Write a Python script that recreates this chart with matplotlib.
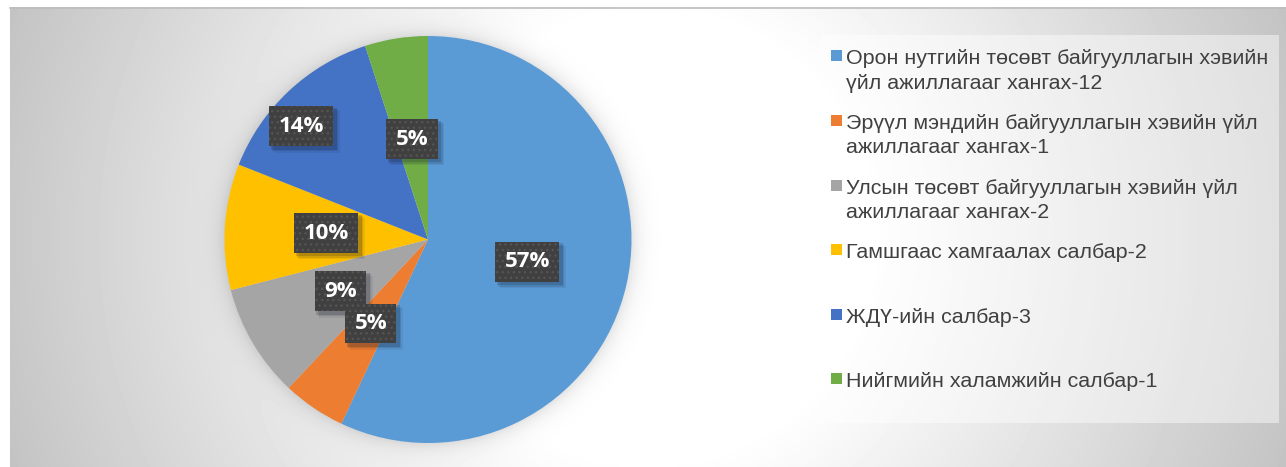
import textwrap
import numpy as np
import matplotlib
matplotlib.use("Agg")
import matplotlib.pyplot as plt
from matplotlib.patches import Rectangle
from matplotlib.transforms import IdentityTransform

# ---- data ----
categories = [
    "Орон нутгийн төсөвт байгууллагын хэвийн үйл ажиллагааг хангах-12",
    "Эрүүл мэндийн байгууллагын хэвийн үйл ажиллагааг хангах-1",
    "Улсын төсөвт байгууллагын хэвийн үйл ажиллагааг хангах-2",
    "Гамшгаас хамгаалах салбар-2",
    "ЖДҮ-ийн салбар-3",
    "Нийгмийн халамжийн салбар-1",
]
shares = [57, 5, 9, 10, 14, 5]

# ---- style ----
colors = ["#5B9BD5", "#ED7D31", "#A5A5A5", "#FFC000", "#4472C4", "#70AD47"]
label_dist = [0.50, 0.50, 0.50, 0.50, 0.835, 0.50]
label_rot = [0, 0, 0, 0, 5, 0]
W, H = 1286, 467
DPI = 100

fig = plt.figure(figsize=(W / DPI, H / DPI), dpi=DPI)

# ---- background (pixel coordinates) ----
bg = fig.add_axes([0, 0, 1, 1])
bg.set_xlim(0, W)
bg.set_ylim(H, 0)
bg.axis("off")

yy, xx = np.mgrid[0:H, 0:W] + 0.5
cx, cy = 648, 237
d = np.hypot(xx - cx, yy - cy) / np.hypot(638, 230)
t = np.clip((d - 0.33) / (1 - 0.33), 0, 1)
v = 1 - t * (1 - 0.765)
# soft shadow around pie
pcx, pcy, pr = 428.0, 239.5, 203.5
dp = np.hypot(xx - pcx, yy - pcy) - pr
shade = 0.11 * np.exp(-np.clip(dp, 0, None) / 9.0)
v = v * (1 - shade)
v[(xx < 10) | (yy < 7)] = 1.0
bg.imshow(v, cmap="gray", vmin=0, vmax=1, extent=(0, W, H, 0),
          interpolation="bilinear", zorder=0)
bg.plot([10, W], [7.5, 7.5], color="#bdbdbd", lw=1.2, zorder=1)

# ---- legend ----
bg.add_patch(Rectangle((821, 35), 458, 388, facecolor="white", alpha=0.45,
                       edgecolor="none", zorder=2))
base0, step, lstep = 64.3, 64.6, 24.5
for i, (lab, col) in enumerate(zip(categories, colors)):
    b = base0 + i * step
    bg.add_patch(Rectangle((831, b - 14), 11, 11, facecolor=col,
                           edgecolor="none", zorder=3))
    for k, line in enumerate(textwrap.wrap(lab, width=39)):
        bg.text(846.5, b + k * lstep, line, fontsize=15.4,
                family=["Liberation Sans", "DejaVu Sans"], color="#404040",
                va="baseline", ha="left", zorder=3)

# ---- pie ----
left = (pcx - pr) / W
bottom = (H - (pcy + pr)) / H
ax = fig.add_axes([left, bottom, 2 * pr / W, 2 * pr / H])
wedges, _ = ax.pie(shares, colors=colors, startangle=90, counterclock=False,
                   radius=1, wedgeprops=dict(linewidth=0))
ax.set_xlim(-1, 1)
ax.set_ylim(-1, 1)
ax.axis("off")

labels = []
for w, s, dist, rot in zip(wedges, shares, label_dist, label_rot):
    ang = np.deg2rad((w.theta1 + w.theta2) / 2 + rot)
    x, y = dist * np.cos(ang), dist * np.sin(ang)
    t_ = ax.text(x, y, f"{s}%", ha="center", va="center", fontsize=16,
                 fontweight="bold", family="Open Sans", color="white",
                 zorder=5,
                 bbox=dict(boxstyle="square,pad=0.42", fc="#404040",
                           ec="#545454", lw=0, hatch="..."))
    labels.append(t_)

# soft drop shadows behind label boxes (display coordinates)
fig.canvas.draw()
renderer = fig.canvas.get_renderer()
for t_ in labels:
    bb = t_.get_bbox_patch().get_window_extent(renderer)
    for off, a in [(5.5, 0.07), (4, 0.12), (2.5, 0.16)]:
        ax.add_patch(Rectangle((bb.x0 + off - 1, bb.y0 - off - 1),
                               bb.width + 2, bb.height + 2,
                               transform=IdentityTransform(),
                               facecolor=(0.05, 0.08, 0.15), alpha=a,
                               edgecolor="none", zorder=4, clip_on=False))

fig.savefig("out.png", dpi=DPI)
